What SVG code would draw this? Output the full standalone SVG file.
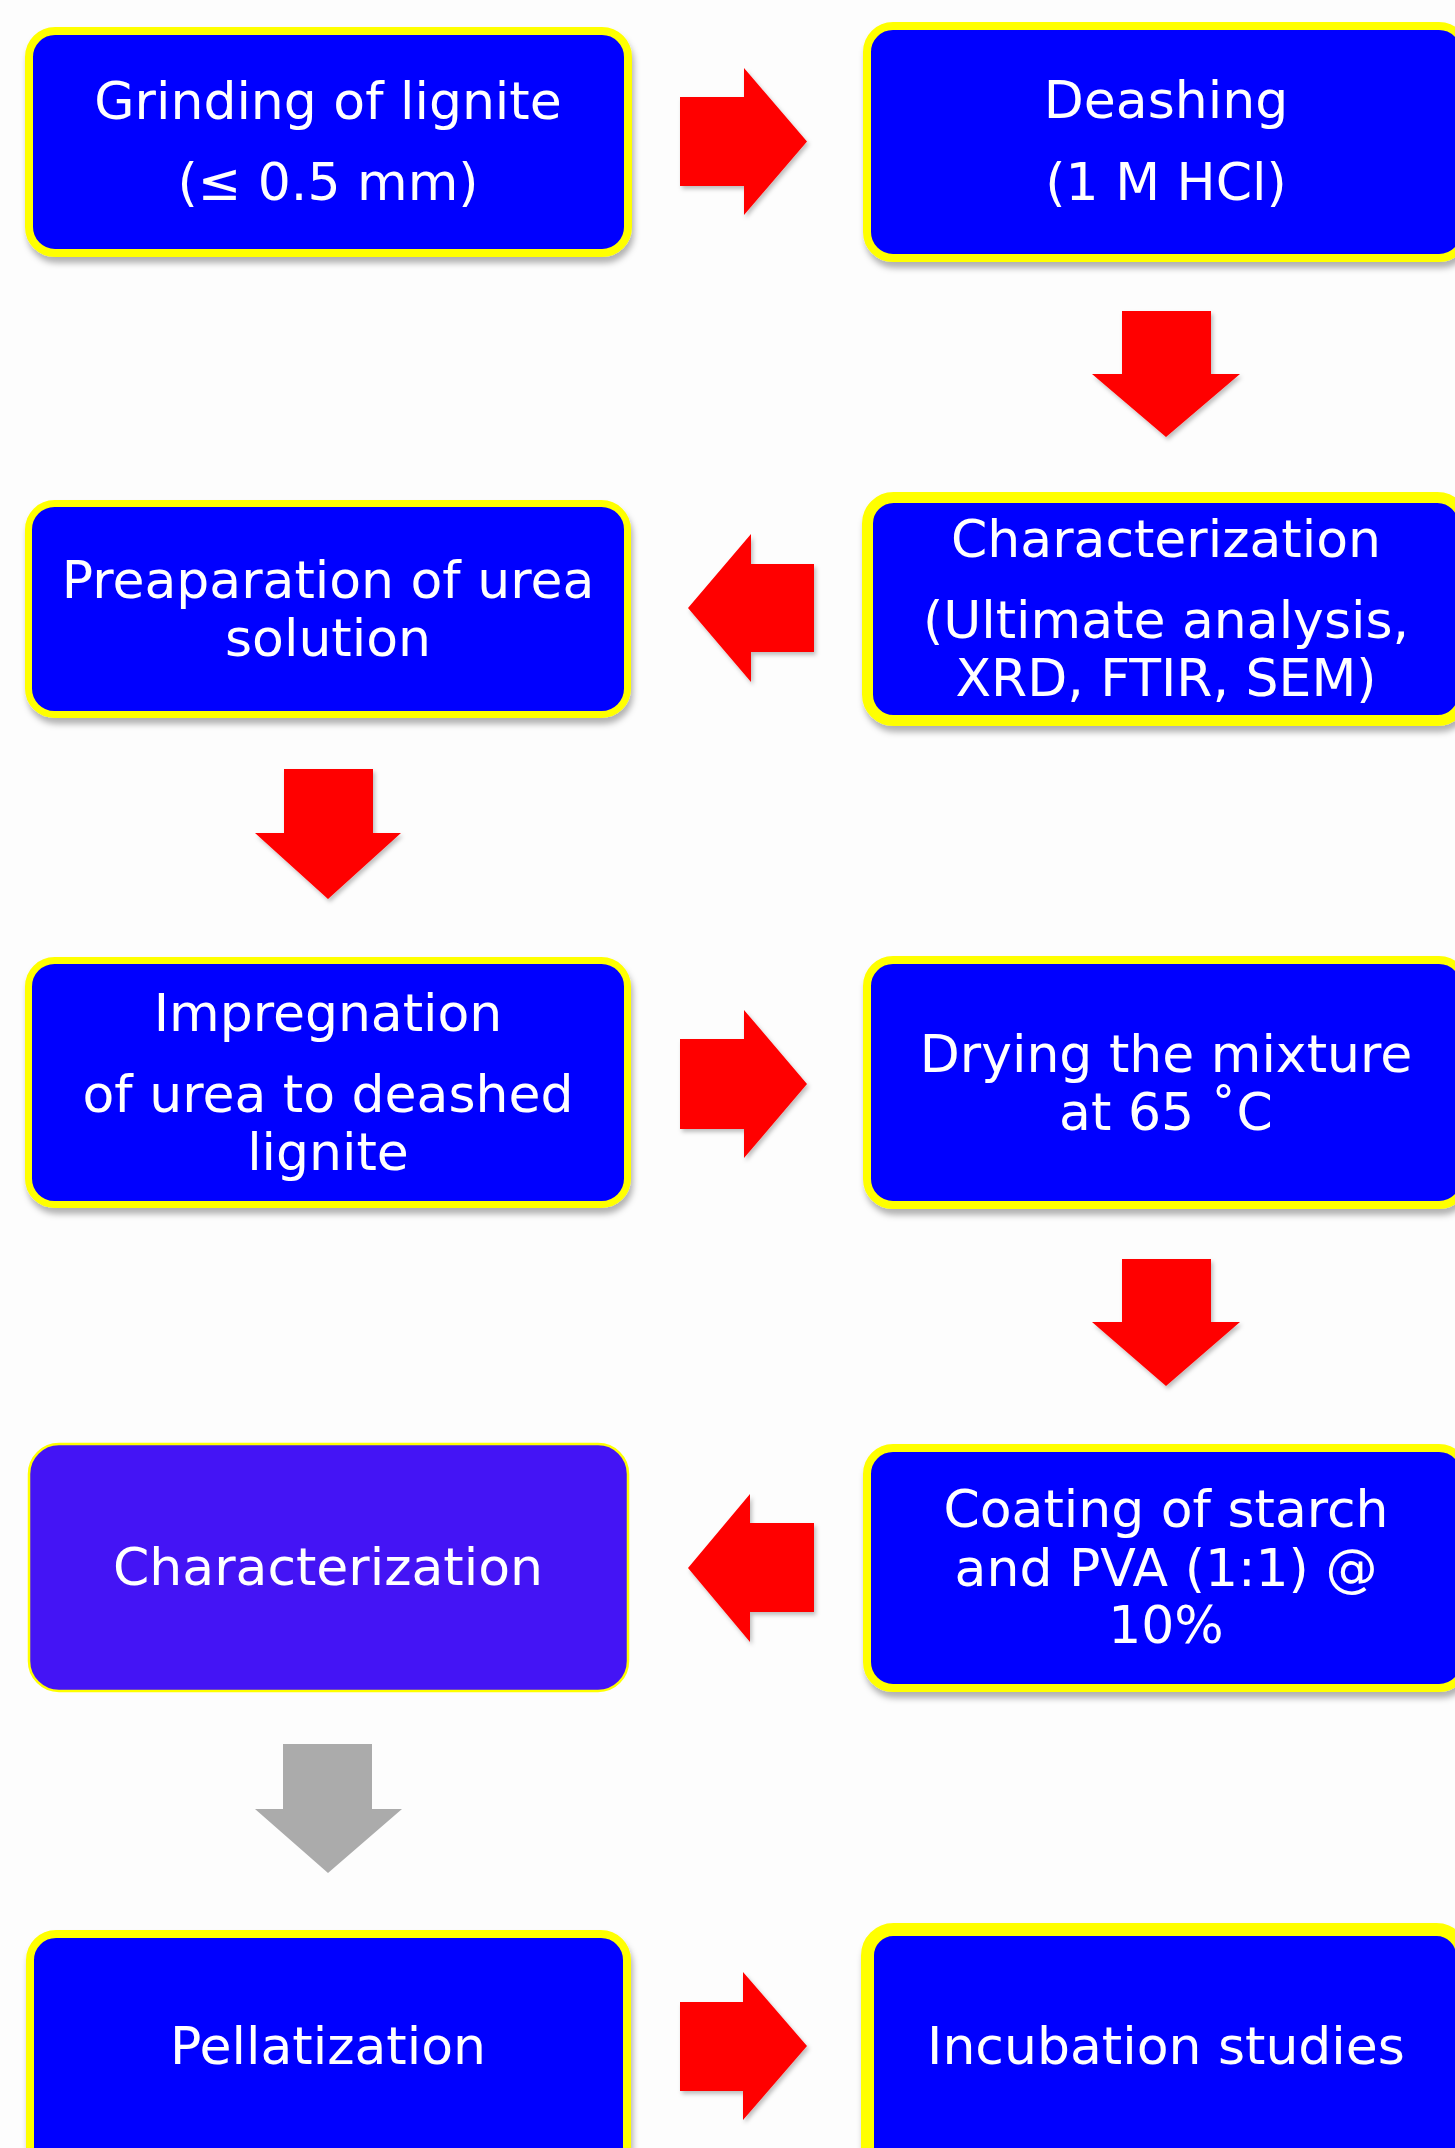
<svg xmlns="http://www.w3.org/2000/svg" width="1455" height="2148" viewBox="0 0 1455 2148">
<defs>
<filter id="sh" x="-10%" y="-10%" width="120%" height="130%">
<feDropShadow dx="2" dy="6" stdDeviation="3" flood-color="#000" flood-opacity="0.3"/>
</filter>
<filter id="ash" x="-20%" y="-20%" width="140%" height="140%">
<feDropShadow dx="2" dy="3" stdDeviation="2" flood-color="#000" flood-opacity="0.25"/>
</filter>
<style>
.box{fill:#0000FF;stroke:#FFFF00;stroke-width:8;filter:url(#sh)}
.purple{fill:#4414F5;stroke:#FFFF00;stroke-width:2.5}
.t{font-family:"DejaVu Sans","Liberation Sans",sans-serif;font-size:52px;fill:#FFFFFF;text-anchor:middle}
.red{fill:#FF0000;filter:url(#ash)}
.gray{fill:#ABABAB}
</style>
</defs>
<rect x="0" y="0" width="1455" height="2148" fill="#FDFDFD"/>

<g id="connectors">
<polygon class="red" points="680,97 744,97 744,68 807,141.5 744,215 744,186 680,186"/>
<polygon class="red" points="1122,311 1211,311 1211,374 1240,374 1166,437 1092,374 1122,374"/>
<polygon class="red" points="814,564 751,564 751,534 688,608 751,682 751,652 814,652"/>
<polygon class="red" points="284,769 373,769 373,833 401,833 328,899 255,833 284,833"/>
<polygon class="red" points="680,1039 744,1039 744,1010 807,1084 744,1158 744,1129 680,1129"/>
<polygon class="red" points="1122,1259 1211,1259 1211,1322 1240,1322 1166,1386 1092,1322 1122,1322"/>
<polygon class="red" points="814,1523 750,1523 750,1494 688,1568 750,1642 750,1612 814,1612"/>
<polygon class="gray" points="283,1744 372,1744 372,1809 402,1809 328,1873 255,1809 283,1809"/>
<polygon class="red" points="680,2002 743,2002 743,1972 807,2046 743,2120 743,2091 680,2091"/>
</g>

<g id="node-grinding">
<rect class="box" x="29" y="31" width="599" height="222" rx="26"/>
<text class="t" x="328" y="119">Grinding of lignite</text>
<text class="t" x="328" y="200">(≤ 0.5 mm)</text>
</g>

<g id="node-deashing">
<rect class="box" x="867" y="26" width="598" height="232" rx="26"/>
<text class="t" x="1166" y="118">Deashing</text>
<text class="t" x="1166" y="200">(1 M HCl)</text>
</g>

<g id="node-characterization1">
<rect class="box" x="867.5" y="497.5" width="596" height="223" rx="26" style="stroke-width:11"/>
<text class="t" x="1166" y="557">Characterization</text>
<text class="t" x="1166" y="638">(Ultimate analysis,</text>
<text class="t" x="1166" y="696">XRD, FTIR, SEM)</text>
</g>

<g id="node-urea-solution">
<rect class="box" x="28.5" y="503.5" width="599" height="211" rx="26" style="stroke-width:7"/>
<text class="t" x="328" y="598">Preaparation of urea</text>
<text class="t" x="328" y="656">solution</text>
</g>

<g id="node-impregnation">
<rect class="box" x="28.5" y="960.5" width="599" height="244" rx="26" style="stroke-width:7"/>
<text class="t" x="328" y="1031">Impregnation</text>
<text class="t" x="328" y="1112">of urea to deashed</text>
<text class="t" x="328" y="1170">lignite</text>
</g>

<g id="node-drying">
<rect class="box" x="867" y="960" width="598" height="245" rx="26"/>
<text class="t" x="1166" y="1072">Drying the mixture</text>
<text class="t" x="1166" y="1130">at 65 ˚C</text>
</g>

<g id="node-coating">
<rect class="box" x="867" y="1448" width="598" height="240" rx="26"/>
<text class="t" x="1166" y="1527">Coating of starch</text>
<text class="t" x="1166" y="1586">and PVA (1:1) @</text>
<text class="t" x="1166" y="1643">10%</text>
</g>

<g id="node-characterization2">
<rect class="purple" x="29" y="1444" width="599" height="247" rx="30"/>
<text class="t" x="328" y="1585">Characterization</text>
</g>

<g id="node-pellatization">
<rect class="box" x="30" y="1934" width="597" height="260" rx="26"/>
<text class="t" x="328" y="2064">Pellatization</text>
</g>

<g id="node-incubation">
<rect class="box" x="867.5" y="1929.5" width="595" height="260" rx="26" style="stroke-width:13"/>
<text class="t" x="1166" y="2064">Incubation studies</text>
</g>
</svg>
